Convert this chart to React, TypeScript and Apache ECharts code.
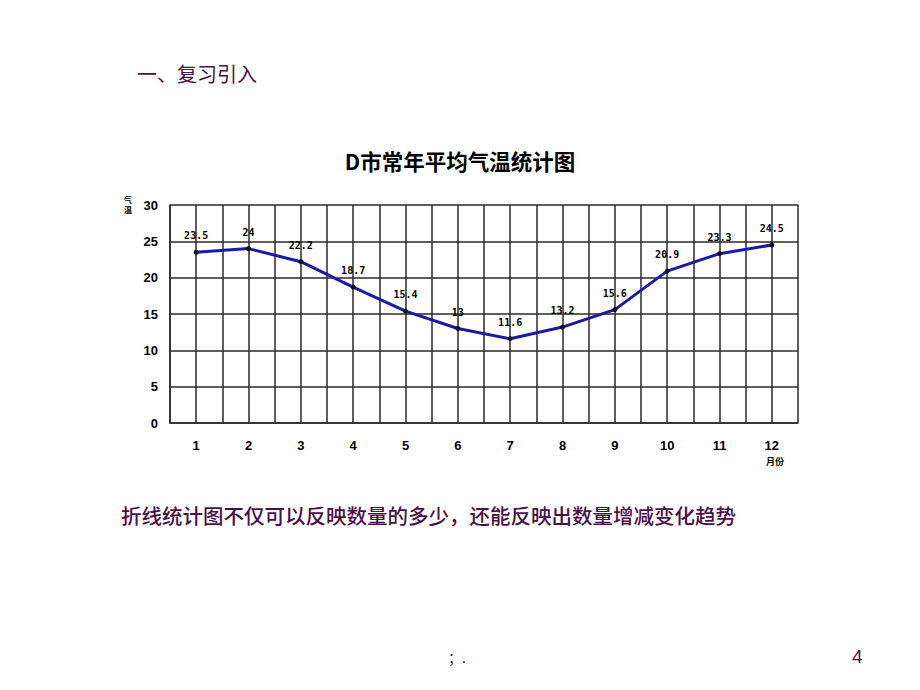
import React, { useEffect, useRef } from "react";
import * as echarts from "echarts";

const months = [1, 2, 3, 4, 5, 6, 7, 8, 9, 10, 11, 12];
const temps = [23.5, 24, 22.2, 18.7, 15.4, 13, 11.6, 13.2, 15.6, 20.9, 23.3, 24.5];
const yTicks = [0, 5, 10, 15, 20, 25, 30];

const titleText = "D市常年平均气温统计图";
const headingText = "一、复习引入";
const noteText = "折线统计图不仅可以反映数量的多少，还能反映出数量增减变化趋势";

const purple = "#4a1048";
const cjk = '"Noto Sans CJK SC", "Noto Sans", sans-serif';

export default function App() {
  const ref = useRef<HTMLDivElement>(null);
  useEffect(() => {
    if (!ref.current) return;
    const chart = echarts.init(ref.current, undefined, { renderer: "svg" });
    const gridColor = "#2a2a2a";
    chart.setOption({
      animation: false,
      backgroundColor: "#ffffff",
      title: {
        text: titleText,
        left: "center",
        top: 145,
        textStyle: { fontFamily: cjk, fontSize: 21.5, fontWeight: "bold", color: "#000" },
      },
      grid: { left: 170, right: 122, top: 205, bottom: 267 },
      xAxis: {
        type: "value",
        min: 0.5,
        max: 12.5,
        interval: 0.5,
        axisLine: { show: true, lineStyle: { color: gridColor, width: 1.5 } },
        axisTick: { show: false },
        splitLine: { show: true, lineStyle: { color: gridColor, width: 1.5 } },
        axisLabel: {
          margin: 16,
          fontFamily: '"Liberation Sans", sans-serif',
          fontWeight: "bold",
          fontSize: 13,
          color: "#000",
          formatter: (v: number) => (Number.isInteger(v) && months.includes(v) ? String(v) : ""),
        },
      },
      yAxis: {
        type: "value",
        min: yTicks[0],
        max: yTicks[yTicks.length - 1],
        interval: 5,
        axisLine: { show: true, lineStyle: { color: gridColor, width: 1.5 } },
        axisTick: { show: false },
        splitLine: { show: true, lineStyle: { color: gridColor, width: 1.5 } },
        axisLabel: {
          margin: 12,
          fontFamily: '"Liberation Sans", sans-serif',
          fontWeight: "bold",
          fontSize: 13,
          color: "#000",
        },
      },
      series: [
        {
          type: "line",
          data: months.map((m, i) => [m, temps[i]]),
          lineStyle: { color: "#1a1aa6", width: 3 },
          symbol: "circle",
          symbolSize: 5,
          itemStyle: { color: "#111" },
          label: {
            show: true,
            position: "top",
            distance: 9,
            fontFamily: '"DejaVu Sans Mono", monospace',
            fontWeight: "bold",
            fontSize: 10,
            color: "#000",
          },
        },
      ],
      graphic: [
        {
          type: "text",
          left: 137,
          top: 63,
          style: { text: headingText, fontFamily: cjk, fontSize: 20, fill: purple },
        },
        {
          type: "text",
          left: 124,
          top: 194,
          style: { text: "气\n温", fontFamily: cjk, fontSize: 8, fontWeight: "bold", fill: "#000", lineHeight: 10 },
        },
        {
          type: "text",
          left: 766,
          top: 457,
          style: { text: "月份", fontFamily: cjk, fontSize: 9, fontWeight: "bold", fill: "#000" },
        },
        {
          type: "text",
          left: 121,
          top: 505,
          style: { text: noteText, fontFamily: cjk, fontSize: 20.5, fontWeight: 500, fill: purple },
        },
        {
          type: "text",
          left: 448,
          top: 650,
          style: { text: "；.", fontFamily: cjk, fontSize: 14, fill: purple },
        },
        {
          type: "text",
          left: 852,
          top: 647,
          style: { text: "4", fontFamily: '"Liberation Sans", sans-serif', fontSize: 19, fill: purple },
        },
      ],
    });
    return () => chart.dispose();
  }, []);
  return (
    <div
      ref={ref}
      style={{ position: "fixed", left: 0, top: 0, width: 920, height: 690, background: "#fff" }}
    />
  );
}
